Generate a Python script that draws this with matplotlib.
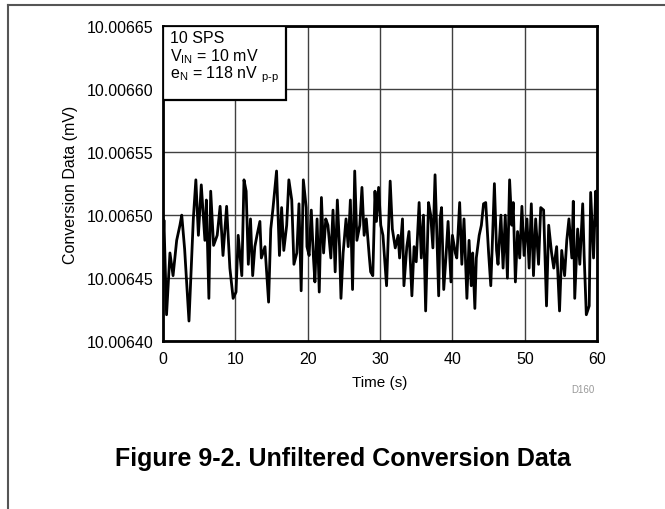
import numpy as np
import matplotlib
matplotlib.use("Agg")
import matplotlib.pyplot as plt
from matplotlib.patches import Rectangle
from matplotlib.lines import Line2D

plt.rcParams["font.family"] = ["Liberation Sans", "DejaVu Sans"]
plt.rcParams["mathtext.fontset"] = "custom"
plt.rcParams["mathtext.rm"] = "Liberation Sans"

# conversion data: time (s) and offset above 10.00640 mV (nV)
time_s = [
    0.0, 0.14, 0.5, 0.97, 1.4, 1.9, 2.35, 2.6, 3.0, 3.6, 4.2, 4.55, 4.9, 5.3, 5.8, 6.0,
    6.35, 6.6, 7.0, 7.5, 7.9, 8.3, 8.8, 9.25,
    9.7, 10.1, 10.4, 10.9, 11.2, 11.5, 11.8, 12.1, 12.4, 12.7, 13.0, 13.4, 13.6, 14.1,
    14.6, 14.9, 15.2, 15.7, 16.1, 16.4, 16.7, 17.1, 17.4, 17.8, 18.1, 18.5, 18.8,
    19.1, 19.4, 19.8, 19.9, 20.2, 20.5, 20.8, 21.0, 21.3, 21.6, 21.9, 22.2, 22.5, 22.8,
    23.2, 23.5, 23.8, 24.1, 24.4, 24.6, 24.9, 25.3, 25.6, 25.9, 26.2, 26.5, 26.8, 27.2,
    27.5, 27.8, 28.1, 28.5, 28.7,
    29.0, 29.3, 29.5, 29.8, 30.1, 30.4, 30.9, 31.4, 31.7, 32.1, 32.5, 32.7, 33.1, 33.3,
    33.7, 34.0, 34.4, 34.7, 35.0, 35.4, 35.7, 36.0, 36.3, 36.7, 37.0, 37.3, 37.6, 37.9, 38.1,
    38.3, 38.5, 38.8, 39.1, 39.4, 39.8, 40.0, 40.4, 40.6, 41.0, 41.3, 41.6, 42.0, 42.3,
    42.6, 42.8, 43.1, 43.3, 43.7, 44.0, 44.3, 44.6, 45.0, 45.3, 45.5, 45.8, 46.1, 46.3,
    46.7, 47.0, 47.3, 47.6, 47.9,
    48.2, 48.4, 48.7, 49.0, 49.3, 49.6, 49.9, 50.3, 50.6, 50.9, 51.2, 51.5, 51.9, 52.2,
    52.6, 52.8, 53.0, 53.3, 53.7, 54.0, 54.4, 54.8, 55.1, 55.5, 55.8, 56.1, 56.5, 56.7,
    56.9, 57.3, 57.6, 58.0, 58.2, 58.5, 58.9, 59.1, 59.5, 59.8, 60.0,
]
offset_nv = [
    70, 96, 21, 70, 52, 80, 92, 100, 73, 16, 97, 128, 84, 124, 80, 112,
    34, 119, 76, 84, 107, 68, 107, 58,
    34, 39, 84, 52, 128, 119, 61, 97, 52, 75, 84, 95, 66, 75,
    31, 89, 105, 135, 68, 106, 72, 92, 128, 112, 61, 70, 109,
    40, 128, 106, 75, 68, 104, 66, 47, 97, 39, 114, 70, 97, 92,
    66, 104, 55, 112, 75, 34, 70, 97, 75, 112, 41, 135, 80, 92,
    122, 84, 97, 68, 55,
    52, 119, 95, 122, 92, 84, 44, 127, 89, 74, 84, 66, 97, 44,
    75, 87, 36, 75, 63, 110, 66, 100, 24, 110, 100, 74, 132, 75, 36,
    97, 106, 41, 66, 95, 47, 84, 70, 66, 110, 61, 97, 34, 80,
    44, 70, 26, 66, 84, 92, 109, 110, 70, 44, 75, 125, 72, 61,
    100, 58, 100, 50, 128,
    92, 110, 47, 87, 66, 107, 68, 97, 58, 109, 52, 97, 61, 106,
    104, 66, 28, 92, 70, 58, 75, 24, 72, 52, 80, 97, 66, 111,
    34, 89, 61, 109, 68, 21, 28, 118, 66, 119, 92,
]
base_mv = 10.00640

x_ticks = [0, 10, 20, 30, 40, 50, 60]
y_ticks = [10.00640, 10.00645, 10.00650, 10.00655, 10.00660, 10.00665]

data_mv = base_mv + np.array(offset_nv) * 1e-6

fig = plt.figure(figsize=(6.65, 5.1), dpi=100)
ax = fig.add_axes([0.245, 0.329, 0.653, 0.618])

ax.plot(time_s, data_mv, color="black", linewidth=2.0, zorder=3)

ax.set_xlim(0, 60)
ax.set_ylim(10.00640, 10.00665)
ax.set_xticks(x_ticks)
ax.set_yticks(y_ticks)
ax.set_yticklabels([f"{v:.5f}" for v in y_ticks])
ax.tick_params(length=0, labelsize=11.5, pad=7)
ax.grid(True, color="#404040", linewidth=1.0)
ax.set_axisbelow(True)
for s in ax.spines.values():
    s.set_linewidth(2.0)
    s.set_zorder(5)

ax.set_xlabel("Time (s)", fontsize=11)
ax.xaxis.set_label_coords(0.5, -0.108)
ax.set_ylabel("Conversion Data (mV)", fontsize=11.5)
ax.yaxis.set_label_coords(-0.195, 0.5)

# condition box in the top left corner
box = Rectangle((0, 0.765), 0.283, 0.235, transform=ax.transAxes,
                facecolor="white", edgecolor="black", linewidth=1.6, zorder=6)
ax.add_patch(box)
ax.text(0.016, 0.963, "10 SPS", transform=ax.transAxes, fontsize=11.5,
        va="center", zorder=7)
ax.text(0.016, 0.906, r"V$_{\mathrm{IN}}$ = 10 mV", transform=ax.transAxes,
        fontsize=11.5, va="center", zorder=7)
ax.text(0.016, 0.849, r"e$_{\mathrm{N}}$ = 118 nV $_{\mathrm{p\text{-}p}}$",
        transform=ax.transAxes, fontsize=11.5, va="center", zorder=7)

fig.text(0.877, 0.235, "D160", fontsize=7, color="#999999", ha="center", va="center")
fig.text(0.515, 0.100, "Figure 9-2. Unfiltered Conversion Data", fontsize=18,
         fontweight="bold", ha="center", va="center")

# page frame lines
fig.add_artist(Line2D([8 / 665, 8 / 665], [0, 1 - 6 / 510], color="#555555", linewidth=1.5))
fig.add_artist(Line2D([8 / 665, 1], [1 - 6 / 510, 1 - 6 / 510], color="#555555", linewidth=1.5))

fig.savefig("out.png", dpi=100)
